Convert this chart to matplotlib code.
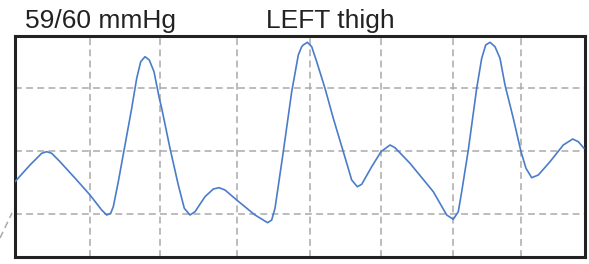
import matplotlib.pyplot as plt
from matplotlib.lines import Line2D

plt.rcParams['font.family'] = ['Liberation Sans', 'DejaVu Sans']

# pressure trace
t = [0, 15, 26.7, 31.7, 36.7, 45, 61.7, 75, 86.7, 91.7,
     95.7, 98.3, 103.3, 110, 116.7, 121.7, 125.7, 130, 134.3, 139,
     144.3, 146.7, 155, 163.3, 169.3, 175, 180, 190, 198.3, 204,
     210, 221.7, 240, 252.7, 256.7, 260, 268.3, 276.7, 283.3, 286.7,
     288.3, 292.3, 296.7, 301.7, 310, 318.3, 328.3, 336.7, 342.3, 346.7,
     356.7, 366, 375, 380, 395, 418.3, 431.7, 438.3, 443.3, 446.7,
     453.3, 461.7, 466.7, 470.7, 475, 480, 485, 490, 498.3, 506,
     511, 516.7, 523.3, 535, 548.3, 557.7, 563.3, 569]
level = [75.3, 92, 103.7, 105.3, 103.7, 95.3, 77, 62, 47, 42,
         43.7, 50.3, 75.3, 112, 148.7, 178.7, 195.3, 200.3, 197, 185.3,
         158.7, 148.7, 108.7, 72, 48.7, 42, 45.3, 60.3, 68, 69.3,
         67, 57, 42, 34.3, 37, 48.7, 105.3, 165.3, 202, 210.3,
         212, 214.7, 210.3, 195.3, 168.7, 138.7, 105.3, 77, 70.3, 72.7,
         90.3, 105.3, 112, 109.3, 93.7, 65.3, 42, 37.7, 45.3, 65.3,
         107, 168.7, 198.7, 212, 214.7, 210.3, 198.7, 172, 138.7, 105.3,
         88.7, 79.3, 82, 95.3, 112, 118, 115.3, 108.7]
grid_t = [75, 145, 222, 295, 366, 438, 506]
grid_level = [43, 106, 169]

fig = plt.figure(figsize=(5.89, 2.64), dpi=100, facecolor='w')
ax = fig.add_axes([15 / 589, 1 - 257 / 264, 570 / 589, 221 / 264])

ax.plot(t, level, color='#4a7cc9', lw=1.2, zorder=3,
        solid_joinstyle='round', solid_capstyle='round')
for g in grid_t:
    ax.axvline(g, color='#aaaaaa', lw=1.1, ls=(0, (4.5, 2.8)), zorder=1)
for g in grid_level:
    ax.axhline(g, color='#aaaaaa', lw=1.1, ls=(0, (4.5, 2.8)), zorder=1)

# stray dashed stub left of the frame
ax.add_line(Line2D([-15, -3], [19, 44], color='#aaaaaa', lw=1.1, ls=(0, (4.5, 2.8)),
                   clip_on=False))

ax.set_xlim(0, 570)
ax.set_ylim(0, 221)
ax.set_xticks([])
ax.set_yticks([])
for s in ax.spines.values():
    s.set_linewidth(2.2)
    s.set_color('#222222')

fig.text(25 / 589, 1 - 28 / 264, '59/60 mmHg', fontsize=19, color='#222222', va='baseline')
fig.text(266 / 589, 1 - 28 / 264, 'LEFT thigh', fontsize=19, color='#222222', va='baseline')

fig.savefig('out.png', dpi=100)
